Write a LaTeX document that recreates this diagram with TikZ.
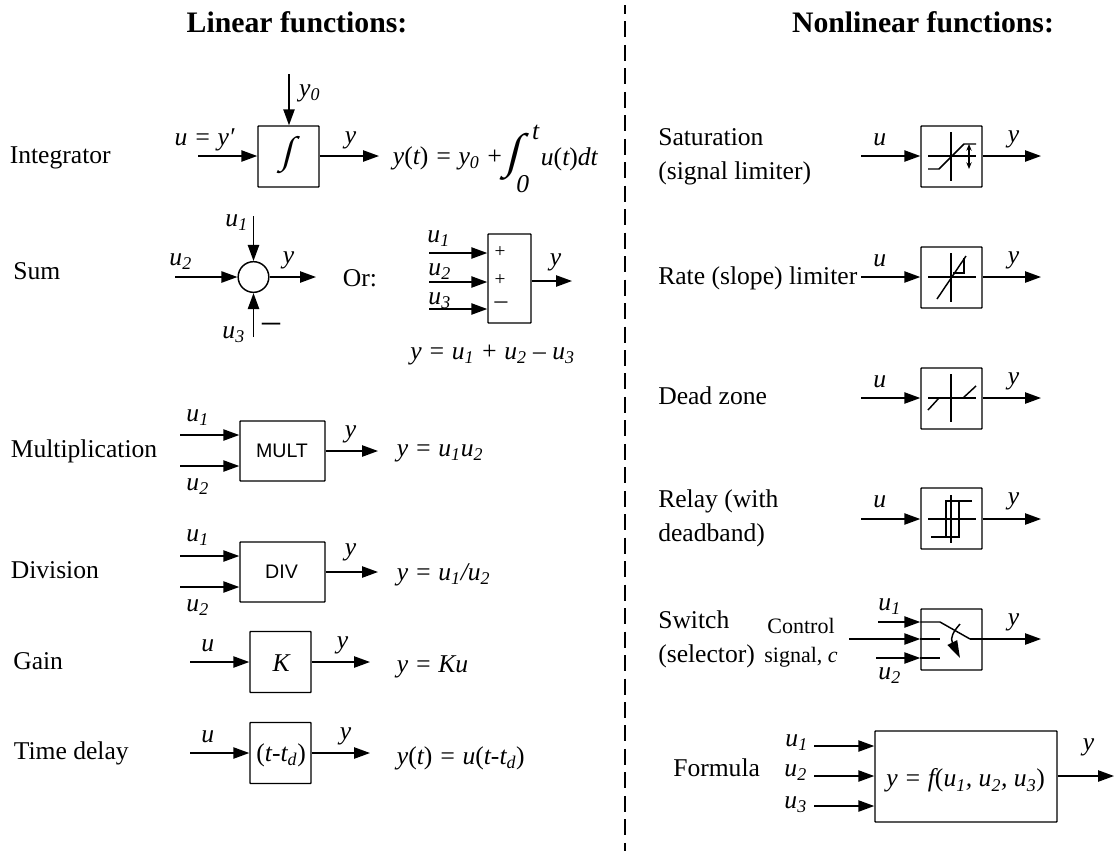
\documentclass[tikz,border=0pt]{standalone}
\usepackage{fontspec}
\setmainfont{Liberation Serif}
\newfontfamily\blockfont{Liberation Sans}
\usetikzlibrary{arrows.meta}
\newcommand{\idx}[1]{\textsubscript{#1}}
\newcommand{\lp}{{\upshape(}}
\newcommand{\rp}{{\upshape)}}

\begin{document}
\begin{tikzpicture}[
    x=0.75pt, y=-0.75pt,
    box/.style={rectangle, draw, line width=1.1pt, rounded corners=0.5pt, inner sep=0pt},
    sq/.style={box, minimum width=45.75pt, minimum height=45.75pt},
    word/.style={font=\fontsize{19.2}{25.5}\selectfont, inner sep=0pt, align=left},
    sig/.style={font=\fontsize{19.2}{23}\selectfont\itshape, inner sep=0pt, xshift=0.5pt, yshift=-2pt},
    small/.style={font=\fontsize{16.5}{22}\selectfont, inner sep=0pt},
    sign/.style={font=\fontsize{14.5}{18}\selectfont, inner sep=0pt},
    bar/.style={font=\fontsize{19.2}{22}\selectfont, inner sep=0pt},
    title/.style={font=\fontsize{22.3}{27}\selectfont\bfseries, inner sep=0pt},
    unit/.style={font=\blockfont\fontsize{14.7}{19}\selectfont, inner sep=0pt},
    arrow/.style={-{Triangle[length=12pt, width=8.5pt]}, line width=1.1pt},
    line/.style={line width=1.1pt},
    glyph/.style={line width=1.1pt},
    integral/.style={inner sep=0pt, xslant=0.25, transform shape}
]
\useasboundingbox (0,0) rectangle (1114,851);

% Headings and divider
\node[title] (linear) at (297,22) {Linear functions:};
\node[title] (nonlinear) at (923,22) {Nonlinear functions:};
\draw[line width=1.2pt, dash pattern=on 12pt off 5.6pt, dash phase=5.25pt] (625,5) -- (625,851);

% Integrator
\node[word, anchor=west] (lint) at (9.5,157.5) {Integrator};
\node[sq] (int) at (288.5,156.5) {};
\node[integral, font=\fontsize{28.5}{30}\selectfont] (intsym) at (289,155) {∫};
\coordinate (intin) at (198,156);
\coordinate (intout) at (379,156);
\coordinate (intup) at (289,74);
\draw[arrow] (intin) -- (intin -| int.west);
\draw[arrow] (intout -| int.east) -- (intout);
\draw[arrow] (intup) -- (intup |- int.north);
\node[sig] (intu) at (204,137) {u = y′};
\node[sig] (inty0) at (309,91) {y\idx{0}};
\node[sig] (inty) at (350,138) {y};
\node[sig, anchor=west] (inteq) at (392,156) {y\lp t\rp{} = y\idx{0} +};
\node[integral, font=\fontsize{36}{40}\selectfont] (inteqsym) at (515,157) {∫};
\node[sig] (inteqt) at (535,130) {t};
\node[sig] (inteq0) at (522,181.5) {0};
\node[sig, anchor=west] (inteqr) at (540,157) {u\lp t\rp dt};

% Sum
\node[word, anchor=west] (lsum) at (13,271) {Sum};
\node[circle, draw, line width=1.1pt, minimum size=23pt, inner sep=0pt] (sum) at (253.5,277) {};
\coordinate (sumu1) at (253.5,216);
\coordinate (sumu2) at (175,277);
\coordinate (sumu3) at (253.5,337);
\coordinate (sumy) at (316,277);
\draw[arrow] (sumu1) -- (sum);
\draw[arrow] (sumu2) -- (sum);
\draw[arrow] (sumu3) -- (sum);
\draw[arrow] (sum) -- (sumy);
\node[sig] (tu1) at (236,220) {u\idx{1}};
\node[sig] (tu2) at (180,259) {u\idx{2}};
\node[sig] (tu3) at (233,332) {u\idx{3}};
\node[sig] (ty) at (288,258) {y};
\node[font=\fontsize{27}{30}\selectfont, inner sep=0pt] (tminus) at (271,328) {–};
\node[word] (lor) at (360,278) {Or:};

% Sum, block form
\node[box, minimum width=32.25pt, minimum height=66.75pt] (add) at (509.5,278.5) {};
\coordinate (addu1) at (429,253);
\coordinate (addu2) at (429,282);
\coordinate (addu3) at (429,309);
\coordinate (addy) at (572,281);
\draw[arrow] (addu1) -- (addu1 -| add.west);
\draw[arrow] (addu2) -- (addu2 -| add.west);
\draw[arrow] (addu3) -- (addu3 -| add.west);
\draw[arrow] (addy -| add.east) -- (addy);
\node[sign] (p1) at (500,252) {+};
\node[sign] (p2) at (500,280) {+};
\node[bar] (p3) at (501,305) {–};
\node[sig] (au1) at (438,236) {u\idx{1}};
\node[sig] (au2) at (439,269) {u\idx{2}};
\node[sig] (au3) at (439,298) {u\idx{3}};
\node[sig] (ay) at (555,260) {y};
\node[sig] (addeq) at (492,352) {y = u\idx{1} + u\idx{2} – u\idx{3}};

% Multiplication
\node[word, anchor=west] (lmul) at (10.5,451) {Multiplication};
\node[box, minimum width=63.75pt, minimum height=45pt] (mul) at (282.5,451) {};
\node[unit] (multext) at (282,451) {MULT};
\coordinate (mulu1) at (180,435);
\coordinate (mulu2) at (180,466);
\coordinate (muly) at (378,451);
\draw[arrow] (mulu1) -- (mulu1 -| mul.west);
\draw[arrow] (mulu2) -- (mulu2 -| mul.west);
\draw[arrow] (mul) -- (muly);
\node[sig] (mu1) at (197,415) {u\idx{1}};
\node[sig] (mu2) at (197,484) {u\idx{2}};
\node[sig] (my) at (350,432) {y};
\node[sig, anchor=west] (muleq) at (396,451) {y = u\idx{1}u\idx{2}};

% Division
\node[word, anchor=west] (ldiv) at (10.5,570) {Division};
\node[box, minimum width=63.75pt, minimum height=45pt] (dvd) at (282.5,572) {};
\node[unit] (dvdtext) at (281.5,572) {DIV};
\coordinate (dvdu1) at (180,556);
\coordinate (dvdu2) at (180,587);
\coordinate (dvdy) at (378,572);
\draw[arrow] (dvdu1) -- (dvdu1 -| dvd.west);
\draw[arrow] (dvdu2) -- (dvdu2 -| dvd.west);
\draw[arrow] (dvd) -- (dvdy);
\node[sig] (du1) at (197,535) {u\idx{1}};
\node[sig] (du2) at (197,605) {u\idx{2}};
\node[sig] (dy) at (350,550) {y};
\node[sig, anchor=west] (dvdeq) at (396,572) {y = u\idx{1}/u\idx{2}};

% Gain
\node[word, anchor=west] (lgain) at (13,661) {Gain};
\node[sq] (gain) at (280.5,662) {};
\node[sig] (gaintext) at (280.5,660.5) {K};
\coordinate (gainu) at (190,662);
\coordinate (gainy) at (370,662);
\draw[arrow] (gainu) -- (gain);
\draw[arrow] (gain) -- (gainy);
\node[sig] (gu) at (207,643) {u};
\node[sig] (gy) at (342,643) {y};
\node[sig, anchor=west] (gaineq) at (396,664) {y = Ku};

% Time delay
\node[word, anchor=west] (ldelay) at (13.5,753.5) {Time delay};
\node[sq] (delay) at (280.5,753) {};
\node[sig] (delaytext) at (280.5,753) {\lp t-t\idx{d}\rp};
\coordinate (delayu) at (190,753);
\coordinate (delayy) at (370,753);
\draw[arrow] (delayu) -- (delay);
\draw[arrow] (delay) -- (delayy);
\node[sig] (tdu) at (207,734) {u};
\node[sig] (tdy) at (345,734) {y};
\node[sig, anchor=west] (delayeq) at (396,756) {y\lp t\rp{} = u\lp t-t\idx{d}\rp};

% Saturation
\node[word, anchor=west] (lsat) at (658,157) {Saturation\\(signal limiter)};
\node[sq] (sat) at (951.5,156.5) {};
\coordinate (satu) at (861,156);
\coordinate (saty) at (1041,156);
\draw[arrow] (satu) -- (satu -| sat.west);
\draw[arrow] (saty -| sat.east) -- (saty);
\node[sig] (stu) at (879,137) {u};
\node[sig] (sty) at (1013,137) {y};
\draw[glyph] (928,156) -- (976,156);
\draw[glyph] (951,132) -- (951,181);
\draw[glyph] (928,169) -- (939,169) -- (964,144) -- (976,144);
\draw[glyph, {Stealth[length=5pt, width=4pt]}-{Stealth[length=5pt, width=4pt]}] (969,144) -- (969,169);

% Rate limiter
\node[word, anchor=west] (lrate) at (658,278) {Rate (slope) limiter};
\node[sq] (rate) at (951.5,277.5) {};
\coordinate (rateu) at (861,277);
\coordinate (ratey) at (1041,277);
\draw[arrow] (rateu) -- (rateu -| rate.west);
\draw[arrow] (ratey -| rate.east) -- (ratey);
\node[sig] (rtu) at (879,258) {u};
\node[sig] (rty) at (1013,258) {y};
\draw[glyph] (928,277) -- (976,277);
\draw[glyph] (951,253) -- (951,302);
\draw[glyph] (937,299) -- (966,256);
\draw[glyph] (964,258) -- (964,273) -- (953,273);

% Dead zone
\node[word, anchor=west] (ldead) at (658,396) {Dead zone};
\node[sq] (dead) at (951.5,398.5) {};
\coordinate (deadu) at (861,398);
\coordinate (deady) at (1041,398);
\draw[arrow] (deadu) -- (deadu -| dead.west);
\draw[arrow] (deady -| dead.east) -- (deady);
\node[sig] (dzu) at (879,379) {u};
\node[sig] (dzy) at (1013,379) {y};
\draw[glyph] (928,398) -- (976,398);
\draw[glyph] (951,374) -- (951,422);
\draw[glyph] (928,410) -- (939,398);
\draw[glyph] (963,398) -- (976,386);

% Relay
\node[word, anchor=west] (lrelay) at (658,518.5) {Relay (with\\deadband)};
\node[sq] (relay) at (951.5,518.5) {};
\coordinate (relayu) at (861,519);
\coordinate (relayy) at (1041,519);
\draw[arrow] (relayu) -- (relayu -| relay.west);
\draw[arrow] (relayy -| relay.east) -- (relayy);
\node[sig] (rlu) at (879,499) {u};
\node[sig] (rly) at (1013,499) {y};
\draw[glyph] (928,519) -- (976,519);
\draw[glyph] (951,495) -- (951,543);
\draw[glyph] (972,501) -- (946,501) -- (946,537);
\draw[glyph] (931,537) -- (959,537) -- (959,501);

% Switch
\node[word, anchor=west] (lswitch) at (658,639.5) {Switch\\(selector)};
\node[small] (lctrl) at (801,626) {Control};
\node[small] (lsig) at (801,657) {signal, \textit{c}};
\node[sq] (switch) at (951.5,639.5) {};
\coordinate (swu1) at (878,622);
\coordinate (swc) at (849,639);
\coordinate (swu2) at (876,658);
\coordinate (swy) at (1041,639);
\coordinate (swa) at (940,622);
\coordinate (swb) at (970,639);
\coordinate (swd) at (940,639);
\coordinate (swe) at (940,658);
\draw[arrow] (swu1) -- (swu1 -| switch.west);
\draw[arrow] (swc) -- (swc -| switch.west);
\draw[arrow] (swu2) -- (swu2 -| switch.west);
\draw[line] (swu1 -| switch.west) -- (swa) -- (swb);
\draw[line] (swc -| switch.west) -- (swd);
\draw[line] (swu2 -| switch.west) -- (swe);
\draw[arrow] (swb) -- (swy);
\coordinate (swcurve) at (960,624);
\coordinate (swtip) at (960,658);
\draw[-{Triangle[length=13pt, width=8pt]}, line width=1.1pt] (swcurve) .. controls (953,632) and (950,638) .. (swtip);
\node[sig] (swtu1) at (889,604) {u\idx{1}};
\node[sig] (swtu2) at (889,673) {u\idx{2}};
\node[sig] (swty) at (1013,620) {y};

% Formula
\node[word, anchor=west] (lform) at (673,768) {Formula};
\node[box, minimum width=136.5pt, minimum height=68.25pt] (form) at (966,776.5) {};
\node[sig] (formtext) at (965,778) {y = f\lp u\idx{1}, u\idx{2}, u\idx{3}\rp};
\coordinate (formu1) at (814,746);
\coordinate (formu2) at (814,776);
\coordinate (formu3) at (814,806);
\coordinate (formy) at (1114,776);
\draw[arrow] (formu1) -- (formu1 -| form.west);
\draw[arrow] (formu2) -- (formu2 -| form.west);
\draw[arrow] (formu3) -- (formu3 -| form.west);
\draw[arrow] (formy -| form.east) -- (formy);
\node[sig] (ftu1) at (796,740) {u\idx{1}};
\node[sig] (ftu2) at (795,770) {u\idx{2}};
\node[sig] (ftu3) at (795,802) {u\idx{3}};
\node[sig] (fty) at (1088,745) {y};
\end{tikzpicture}
\end{document}
